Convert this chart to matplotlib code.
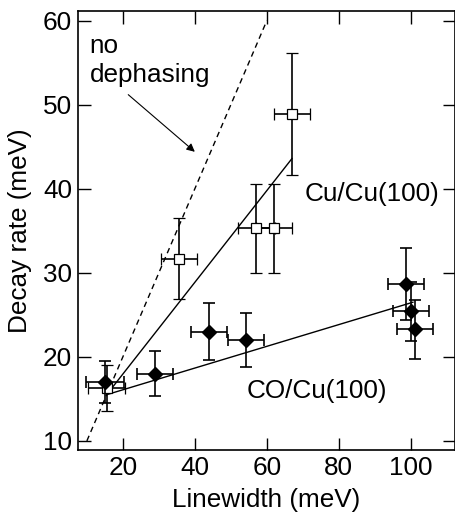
import matplotlib
matplotlib.use("Agg")
import matplotlib.pyplot as plt

plt.rcParams['font.family'] = ['Liberation Sans', 'DejaVu Sans']
plt.rcParams['font.size'] = 18.8

# Cu/Cu(100) - open squares
cu_x = [15.5, 35.6, 57.1, 62.0, 67.0]
cu_y = [16.3, 31.7, 35.3, 35.3, 48.9]
cu_xerr = [5.2, 5.0, 5.2, 5.0, 5.1]
cu_yerr = [2.7, 4.8, 5.3, 5.3, 7.3]

# CO/Cu(100) - filled diamonds
co_x = [15.0, 28.9, 43.9, 54.2, 98.8, 100.0, 101.1]
co_y = [17.0, 18.0, 23.0, 22.0, 28.7, 25.4, 23.3]
co_xerr = [5.2, 5.1, 5.0, 5.0, 5.0, 5.0, 5.0]
co_yerr = [2.5, 2.7, 3.4, 3.2, 4.3, 3.5, 3.5]

# fits and the no-dephasing limit
nodeph_x = [10, 60]
nodeph_y = [10, 60]
cufit_x = [15.5, 67.0]
cufit_y = [15.5, 43.6]
cofit_x = [15.5, 100.6]
cofit_y = [15.5, 26.5]

fig = plt.figure(figsize=(4.56, 5.21), dpi=100)
ax = fig.add_axes([0.170, 0.136, 0.827, 0.842])

ax.plot(nodeph_x, nodeph_y, ls=(0, (4, 3)), c='k', lw=1.0)
ax.plot(cufit_x, cufit_y, c='k', lw=1.0)
ax.plot(cofit_x, cofit_y, c='k', lw=1.0)

ax.errorbar(cu_x, cu_y, xerr=cu_xerr, yerr=cu_yerr, fmt='s', ms=6.5,
            mfc='white', mec='k', mew=0.9, ecolor='k', elinewidth=1.2,
            capsize=4.5, capthick=1.2, zorder=3)
ax.errorbar(co_x, co_y, xerr=co_xerr, yerr=co_yerr, fmt='D', ms=7.5,
            mfc='k', mec='k', ecolor='k', elinewidth=1.2,
            capsize=4.5, capthick=1.2, zorder=4)

ax.text(10.8, 56.1, 'no', ha='left', va='baseline')
ax.text(10.8, 52.7, 'dephasing', ha='left', va='baseline')
ax.annotate('', xy=(40, 44.4), xytext=(21.5, 51.2),
            arrowprops=dict(arrowstyle='-|>', lw=0.8, color='k',
                            mutation_scale=12, shrinkA=0, shrinkB=0))
ax.text(70.4, 38.6, 'Cu/Cu(100)', ha='left', va='baseline')
ax.text(54.4, 15.1, 'CO/Cu(100)', ha='left', va='baseline')

ax.set_xlim(7.4, 112.2)
ax.set_ylim(8.9, 61.1)
ax.set_xticks([20, 40, 60, 80, 100])
ax.set_yticks([10, 20, 30, 40, 50, 60])
ax.tick_params(direction='in', length=9, width=1.0, top=True, right=True,
               labelsize=18.8, pad=4)
for s in ax.spines.values():
    s.set_linewidth(1.2)
ax.set_xlabel('Linewidth (meV)', labelpad=6)
ax.set_ylabel('Decay rate (meV)', labelpad=8)

fig.savefig('out.png', dpi=100)
